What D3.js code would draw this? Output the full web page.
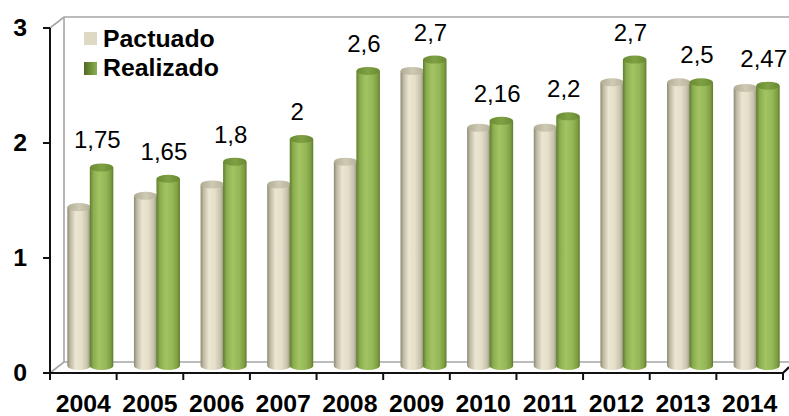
<!DOCTYPE html>
<html><head><meta charset="utf-8">
<script src="https://cdn.jsdelivr.net/npm/d3@7"></script>
<style>body{margin:0;background:#fff}svg{display:block}text{font-family:"Liberation Sans",Arial,sans-serif}</style>
</head><body>
<script>
const years = ["2004","2005","2006","2007","2008","2009","2010","2011","2012","2013","2014"];
const pactuado = [1.4,1.5,1.6,1.6,1.8,2.6,2.1,2.1,2.5,2.5,2.45];
const realizado = [1.75,1.65,1.8,2,2.6,2.7,2.16,2.2,2.7,2.5,2.47];
const realizadoLabels = ["1,75","1,65","1,8","2","2,6","2,7","2,16","2,2","2,7","2,5","2,47"];
const yTicks = [0,1,2,3];
const seriesNames = ["Pactuado","Realizado"];

const W=789,H=416;
const svg=d3.select("body").append("svg").attr("width",W).attr("height",H);
const defs=svg.append("defs");
function grad(id,stops){const g=defs.append("linearGradient").attr("id",id).attr("x1","0").attr("x2","1").attr("y1","0").attr("y2","0");
 stops.forEach(s=>g.append("stop").attr("offset",s[0]).attr("stop-color",s[1]));}
grad("gP",[[0,"#8c8874"],[0.12,"#bdb8a2"],[0.35,"#ebe5d1"],[0.6,"#e6e0ca"],[0.85,"#c6c1ab"],[1,"#8e8a76"]]);
grad("gR",[[0,"#607f2c"],[0.15,"#8bad50"],[0.4,"#a3c462"],[0.7,"#94b656"],[0.9,"#7d9d41"],[1,"#5c7a2a"]]);
grad("gPt",[[0,"#b0ab95"],[0.5,"#cfcab4"],[1,"#b5b09a"]]);
grad("gRt",[[0,"#6a8a32"],[0.5,"#7fa144"],[1,"#698931"]]);
grad("gLegR",[[0,"#4f6a22"],[1,"#8db050"]]);

const x0=50,x1=783,dx=14,dy=-11;
const x=d3.scaleBand().domain(years).range([x0,x1]);
const yAxisScale=d3.scaleLinear().domain([0,3]).range([373,28]);
const yBar=d3.scaleLinear().domain([0,3]).range([366,366-3*113.5]);

// back wall & floor
const wall=svg.append("g").attr("fill","none").attr("stroke","#a6a6a6").attr("stroke-width",1.6);
wall.append("path").attr("d",`M${x0},${yAxisScale(3)}L${x0+dx},${yAxisScale(3)+dy}L${W+5},${yAxisScale(3)+dy}`);
wall.append("path").attr("d",`M${x0+dx},${yAxisScale(3)+dy}L${x0+dx},${yAxisScale(0)+dy}L${x1+dx},${yAxisScale(0)+dy}`);
wall.append("path").attr("d",`M${x0},${yAxisScale(0)}L${x0+dx},${yAxisScale(0)+dy}`);
wall.append("path").attr("d",`M${x1},${yAxisScale(0)}L${x1+dx},${yAxisScale(0)+dy}`);

// bars
const bw=23.5,rx=bw/2,ry=4;
function cyl(g,cx,v,fill,topFill){
  const yt=yBar(v),yb=yBar(0);
  const a=cx-rx,b=cx+rx;
  g.append("path").attr("d",`M${a},${yt}L${a},${yb}A${rx},${ry} 0 0 0 ${b},${yb}L${b},${yt}Z`).attr("fill",fill);
  g.append("ellipse").attr("cx",cx).attr("cy",yt).attr("rx",rx).attr("ry",ry).attr("fill",topFill);
}
const bars=svg.append("g");
years.forEach((yr,i)=>{
  const c=x(yr)+x.bandwidth()/2+dx/2;
  cyl(bars,c-rx+0.5,pactuado[i],"url(#gP)","url(#gPt)");
  cyl(bars,c+rx-0.5,realizado[i],"url(#gR)","url(#gRt)");
});

// value labels
svg.append("g").selectAll("text").data(years).join("text")
  .attr("x",(d)=>x(d)+x.bandwidth()/2+dx/2+7)
  .attr("y",(d,i)=>yBar(realizado[i])-19)
  .attr("text-anchor","middle").attr("font-size",24).attr("fill","#000")
  .text((d,i)=>realizadoLabels[i]);

// axes lines
const ax=svg.append("g").attr("stroke","#111").attr("stroke-width",2).attr("fill","none");
ax.append("path").attr("d",`M${x0},${yAxisScale(3)}L${x0},${yAxisScale(0)}L${x1},${yAxisScale(0)}L${x1+6},${yAxisScale(0)-6}`);
yTicks.forEach(t=>ax.append("path").attr("d",`M${x0-7},${yAxisScale(t)}L${x0},${yAxisScale(t)}`));
x.domain().concat(["end"]).forEach((d,i)=>{const px=x0+i*x.step();ax.append("path").attr("d",`M${px},${yAxisScale(0)}L${px},${yAxisScale(0)+7}`);});

const sx=1.08;
function sText(g,tx,ty,str,opts){
  const t=g.append("text").attr("transform",`translate(${tx},${ty}) scale(${sx},1)`).text(str)
   .attr("font-size",opts.size).attr("font-weight",opts.weight||"bold").attr("text-anchor",opts.anchor||"start").attr("fill","#000");
  return t;
}
const yl=svg.append("g");
yTicks.forEach(t=>sText(yl,27,yAxisScale(t)+8,String(t),{size:23,anchor:"end"}));
const xl=svg.append("g");
years.forEach(yr=>sText(xl,x(yr)+x.bandwidth()/2,412,yr,{size:23,anchor:"middle"}));

// legend
const lg=svg.append("g");
lg.append("rect").attr("x",84).attr("y",32).attr("width",13).attr("height",13).attr("fill","#ddd9c3");
lg.append("rect").attr("x",84).attr("y",62).attr("width",13).attr("height",13).attr("fill","url(#gLegR)");
sText(lg,103,47,seriesNames[0],{size:23});
sText(lg,103,76,seriesNames[1],{size:23});
</script>
</body></html>
